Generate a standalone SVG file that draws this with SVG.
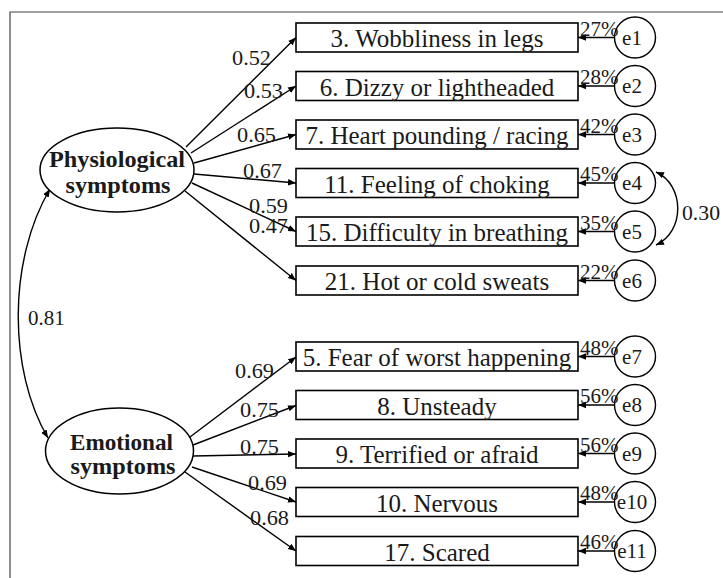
<svg xmlns="http://www.w3.org/2000/svg" width="723" height="578" viewBox="0 0 723 578">
<defs>
<marker id="ah" viewBox="0 0 10 10" refX="10" refY="5" markerWidth="8" markerHeight="8" markerUnits="userSpaceOnUse" orient="auto-start-reverse">
<path d="M0,1 L10,5 L0,9 Z" fill="#000"/>
</marker>
<style>
.box{fill:#fff;stroke:#000;stroke-width:1.6}
.lat{fill:#fff;stroke:#000;stroke-width:1.5}
.err{fill:#fff;stroke:#000;stroke-width:1.4}
.lbl{font-family:"Liberation Serif",serif;font-size:25px;fill:#1a1a1a;text-anchor:middle}
.latt{font-family:"Liberation Serif",serif;font-size:23px;font-weight:bold;fill:#1a1a1a;text-anchor:middle}
.coef{font-family:"Liberation Serif",serif;font-size:21px;fill:#1a1a1a}
.pct{font-family:"Liberation Serif",serif;font-size:21px;fill:#1a1a1a}
.el{font-family:"Liberation Serif",serif;font-size:21px;fill:#1a1a1a;text-anchor:middle}
.con{fill:none;stroke:#000;stroke-width:1.4;marker-end:url(#ah)}
.cov{fill:none;stroke:#000;stroke-width:1.4;marker-start:url(#ah);marker-end:url(#ah)}
</style>
</defs>
<rect width="723" height="578" fill="#fff"/>
<path d="M10,578 V12 H723" fill="none" stroke="#444" stroke-width="1.2"/>

<g id="connectors">
<path class="con" d="M186,147 L296,37.5"/>
<path class="con" d="M191,153 L296,86"/>
<path class="con" d="M194,163 L296,134.5"/>
<path class="con" d="M194,174 L296,183"/>
<path class="con" d="M192,183 L296,231.5"/>
<path class="con" d="M185,191 L296,280.5"/>
<path class="con" d="M190,437 L296,357"/>
<path class="con" d="M193,445 L296,405.5"/>
<path class="con" d="M193,456 L296,454"/>
<path class="con" d="M192,467 L296,502"/>
<path class="con" d="M185,472 L296,551"/>
<path class="con" d="M614,37.5 H578"/>
<path class="con" d="M614,86 H578"/>
<path class="con" d="M614,134.5 H578"/>
<path class="con" d="M614,183 H578"/>
<path class="con" d="M614,231.5 H578"/>
<path class="con" d="M614,280.5 H578"/>
<path class="con" d="M614,356.5 H578"/>
<path class="con" d="M614,405 H578"/>
<path class="con" d="M614,453.5 H578"/>
<path class="con" d="M614,502 H578"/>
<path class="con" d="M614,551 H578"/>
<path class="cov" d="M50,189 C8,260 8,370 48,438"/>
<path class="cov" d="M656,172 C685,185 685,232 656,245"/>
<text class="coef" x="232" y="65" textLength="39" lengthAdjust="spacingAndGlyphs">0.52</text>
<text class="coef" x="244" y="98" textLength="39" lengthAdjust="spacingAndGlyphs">0.53</text>
<text class="coef" x="237" y="142" textLength="39" lengthAdjust="spacingAndGlyphs">0.65</text>
<text class="coef" x="243" y="178" textLength="39" lengthAdjust="spacingAndGlyphs">0.67</text>
<text class="coef" x="249" y="213" textLength="39" lengthAdjust="spacingAndGlyphs">0.59</text>
<text class="coef" x="249" y="233" textLength="39" lengthAdjust="spacingAndGlyphs">0.47</text>
<text class="coef" x="235" y="378" textLength="39" lengthAdjust="spacingAndGlyphs">0.69</text>
<text class="coef" x="240" y="417" textLength="39" lengthAdjust="spacingAndGlyphs">0.75</text>
<text class="coef" x="240" y="454" textLength="39" lengthAdjust="spacingAndGlyphs">0.75</text>
<text class="coef" x="248" y="490" textLength="39" lengthAdjust="spacingAndGlyphs">0.69</text>
<text class="coef" x="250" y="525" textLength="39" lengthAdjust="spacingAndGlyphs">0.68</text>
<text class="coef" x="28" y="325">0.81</text>
<text class="coef" x="682" y="220" textLength="38" lengthAdjust="spacingAndGlyphs">0.30</text>
</g>

<g id="physiological">
<ellipse class="lat" cx="117" cy="170" rx="77" ry="42"/>
<text class="latt" x="117" y="167" textLength="136" lengthAdjust="spacingAndGlyphs">Physiological</text>
<text class="latt" x="118" y="193" textLength="105" lengthAdjust="spacingAndGlyphs">symptoms</text>
</g>
<g id="emotional">
<ellipse class="lat" cx="119.5" cy="451" rx="74" ry="43"/>
<text class="latt" x="121.5" y="450" textLength="103" lengthAdjust="spacingAndGlyphs">Emotional</text>
<text class="latt" x="123" y="474" textLength="105" lengthAdjust="spacingAndGlyphs">symptoms</text>
</g>

<g id="item3"><rect class="box" x="296" y="23" width="282" height="29"/><text class="lbl" x="437" y="47">3. Wobbliness in legs</text></g>
<g id="item6"><rect class="box" x="296" y="71.5" width="282" height="29"/><text class="lbl" x="437" y="95.5">6. Dizzy or lightheaded</text></g>
<g id="item7"><rect class="box" x="296" y="120" width="282" height="29"/><text class="lbl" x="437" y="144">7. Heart pounding / racing</text></g>
<g id="item11"><rect class="box" x="296" y="168.5" width="282" height="29"/><text class="lbl" x="437" y="192.5">11. Feeling of choking</text></g>
<g id="item15"><rect class="box" x="296" y="217" width="282" height="29"/><text class="lbl" x="437" y="241">15. Difficulty in breathing</text></g>
<g id="item21"><rect class="box" x="296" y="266" width="282" height="29"/><text class="lbl" x="437" y="290">21. Hot or cold sweats</text></g>
<g id="item5"><rect class="box" x="296" y="342" width="282" height="29"/><text class="lbl" x="437" y="366">5. Fear of worst happening</text></g>
<g id="item8"><rect class="box" x="296" y="390.5" width="282" height="29"/><text class="lbl" x="437" y="414.5">8. Unsteady</text></g>
<g id="item9"><rect class="box" x="296" y="439" width="282" height="29"/><text class="lbl" x="437" y="463">9. Terrified or afraid</text></g>
<g id="item10"><rect class="box" x="296" y="487.5" width="282" height="29"/><text class="lbl" x="437" y="511.5">10. Nervous</text></g>
<g id="item17"><rect class="box" x="296" y="536.5" width="282" height="29"/><text class="lbl" x="437" y="560.5">17. Scared</text></g>

<g id="e1"><circle class="err" cx="635" cy="37.5" r="20.5"/><text class="pct" x="580" y="35.5">27%</text><text class="el" x="632" y="44.5">e1</text></g>
<g id="e2"><circle class="err" cx="635" cy="86" r="20.5"/><text class="pct" x="580" y="84">28%</text><text class="el" x="632" y="93">e2</text></g>
<g id="e3"><circle class="err" cx="635" cy="134.5" r="20.5"/><text class="pct" x="580" y="132.5">42%</text><text class="el" x="632" y="141.5">e3</text></g>
<g id="e4"><circle class="err" cx="635" cy="183" r="20.5"/><text class="pct" x="580" y="181">45%</text><text class="el" x="632" y="190">e4</text></g>
<g id="e5"><circle class="err" cx="635" cy="231.5" r="20.5"/><text class="pct" x="580" y="229.5">35%</text><text class="el" x="632" y="238.5">e5</text></g>
<g id="e6"><circle class="err" cx="635" cy="280.5" r="20.5"/><text class="pct" x="580" y="278.5">22%</text><text class="el" x="632" y="287.5">e6</text></g>
<g id="e7"><circle class="err" cx="635" cy="356.5" r="20.5"/><text class="pct" x="580" y="354.5">48%</text><text class="el" x="632" y="363.5">e7</text></g>
<g id="e8"><circle class="err" cx="635" cy="405" r="20.5"/><text class="pct" x="580" y="403">56%</text><text class="el" x="632" y="412">e8</text></g>
<g id="e9"><circle class="err" cx="635" cy="453.5" r="20.5"/><text class="pct" x="580" y="451.5">56%</text><text class="el" x="632" y="460.5">e9</text></g>
<g id="e10"><circle class="err" cx="635" cy="502" r="20.5"/><text class="pct" x="580" y="500">48%</text><text class="el" x="632" y="509">e10</text></g>
<g id="e11"><circle class="err" cx="635" cy="551" r="20.5"/><text class="pct" x="580" y="549">46%</text><text class="el" x="632" y="558">e11</text></g>
</svg>
